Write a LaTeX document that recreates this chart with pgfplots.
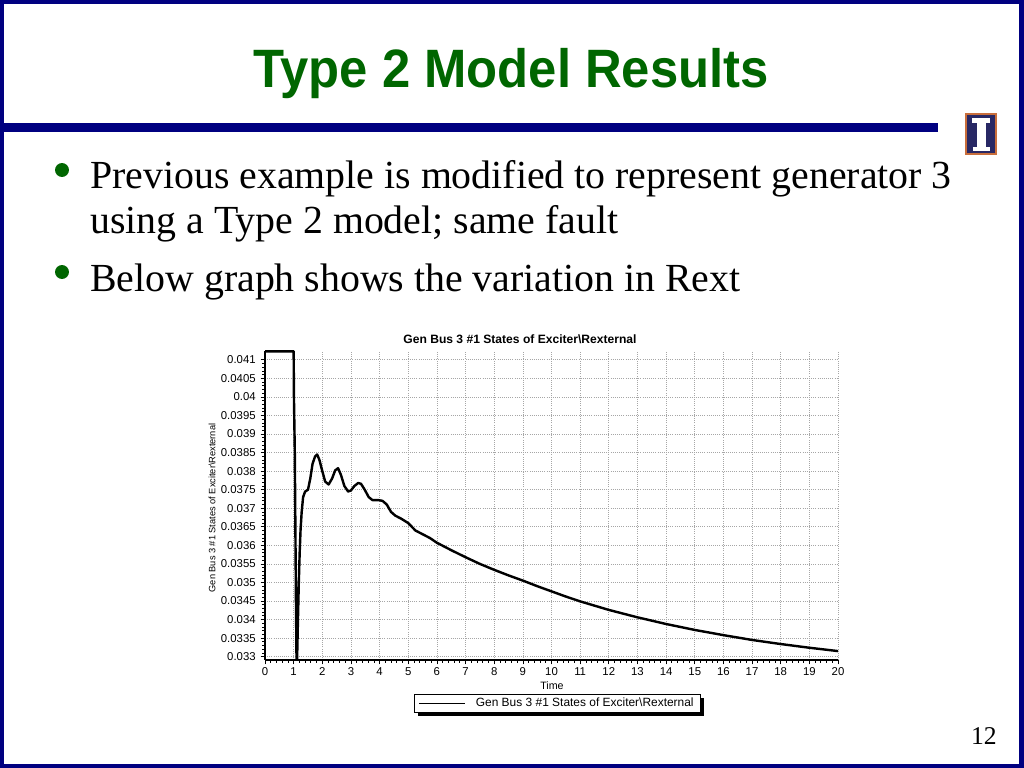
\documentclass[border=0pt]{standalone}
\usepackage{fontspec}
\setmainfont{Liberation Serif}
\newfontfamily\arial{Liberation Sans}
\usepackage{pgfplots}
\pgfplotsset{compat=1.18}
\definecolor{slidenavy}{RGB}{0,0,128}
\definecolor{titlegreen}{RGB}{0,102,0}
\definecolor{logonavy}{RGB}{40,40,100}
\definecolor{logoorange}{RGB}{200,110,60}
\begin{document}
\begin{tikzpicture}[x=0.703125pt,y=0.703125pt]
% background & frame
\fill[white] (0,0) rectangle (1024,768);
\fill[slidenavy] (0,0) rectangle (1024,4);
\fill[slidenavy] (0,764) rectangle (1024,768);
\fill[slidenavy] (0,0) rectangle (4,768);
\fill[slidenavy] (1019,0) rectangle (1024,768);
\fill[slidenavy] (0,636) rectangle (938,645);
% logo
\fill[logoorange] (965,613) rectangle (997,655);
\fill[logonavy] (967,615) rectangle (995,653);
\fill[white] (972,645) rectangle (990,650);
\fill[white] (977,621) rectangle (986,645);
\fill[white] (973,617) rectangle (990,621);
% title
\node[anchor=base, inner sep=0pt, text=titlegreen] at (511,680)
  {\scalebox{0.94}[1]{\arial\bfseries\fontsize{38}{40}\selectfont Type 2 Model Results}};
% bullets
\fill[titlegreen] (62,598) circle[radius=4.9pt];
\fill[titlegreen] (62,496) circle[radius=4.9pt];
\node[anchor=base west, inner sep=0pt] at (90,579) {\fontsize{28}{30}\selectfont Previous example is modified to represent generator 3};
\node[anchor=base west, inner sep=0pt] at (90,534) {\fontsize{28}{30}\selectfont using a Type 2 model; same fault};
\node[anchor=base west, inner sep=0pt] at (90,476) {\fontsize{28}{30}\selectfont Below graph shows the variation in Rext};
\node[anchor=base east, inner sep=0pt] at (997,23) {\fontsize{18}{20}\selectfont 12};
% chart texts
\node[anchor=center, inner sep=0pt] at (520,429) {\arial\bfseries\fontsize{8.5}{10}\selectfont Gen Bus 3 \#1 States of Exciter\textbackslash Rexternal};
\node[anchor=center, inner sep=0pt, rotate=90] at (212,260) {\arial\fontsize{6.5}{8}\selectfont Gen Bus 3 \#1 States of Exciter\textbackslash Rexternal};
\node[anchor=center, inner sep=0pt] at (552,82) {\arial\fontsize{7.5}{9}\selectfont Time};
% legend shadow
\fill[black] (418,52) rectangle (704,70);
\begin{axis}[
  at={(186.33pt,75.94pt)}, anchor=south west,
  scale only axis, width=402.9pt, height=217.3pt,
  xmin=0, xmax=20, ymin=0.03291, ymax=0.04124,
  clip=false,
  axis x line*=bottom, axis y line*=left,
  axis line style={-, line width=1.5pt, black},
  xtick={0,1,2,3,4,5,6,7,8,9,10,11,12,13,14,15,16,17,18,19,20},
  ytick={0.033,0.0335,0.034,0.0345,0.035,0.0355,0.036,0.0365,0.037,0.0375,0.038,0.0385,0.039,0.0395,0.04,0.0405,0.041},
  yticklabels={0.033,0.0335,0.034,0.0345,0.035,0.0355,0.036,0.0365,0.037,0.0375,0.038,0.0385,0.039,0.0395,0.04,0.0405,0.041},
  scaled y ticks=false,
  minor x tick num=4, minor y tick num=4,
  tick align=outside,
  major tick length=3pt, minor tick length=1.8pt,
  tick style={black, line width=0.5pt},
  grid=major,
  major grid style={gray!70, line width=0.5pt, dash pattern=on 0.5pt off 1pt},
  ticklabel style={font=\arial\fontsize{8}{9}\selectfont},
  /pgf/number format/assume math mode=true,
  xticklabel shift={-1pt},
  xticklabel style={anchor=north},
  legend style={at={(0.5105,-0.141)}, anchor=center, draw=black, line width=0.6pt,
    font=\arial\fontsize{8.4}{9}\selectfont, fill=white, inner xsep=3pt, inner ysep=0.6pt},
  legend image code/.code={\draw[black, line width=1.3pt] (0pt,0pt) -- (32pt,0pt);},
]
\addplot[black, line width=1.7pt, line join=round] coordinates {
(0,0.04123) (1.0,0.04123) (1.01,0.0400) (1.04,0.0385) (1.06,0.0365) (1.08,0.0345)
(1.10,0.03292) (1.12,0.03292) (1.15,0.0340) (1.18,0.0350) (1.21,0.0358) (1.24,0.0364)
(1.28,0.0369) (1.33,0.0373) (1.40,0.03745) (1.50,0.0375) (1.58,0.0378) (1.66,0.0382)
(1.75,0.0384) (1.82,0.03845) (1.90,0.0383) (2.00,0.0380) (2.10,0.03772) (2.22,0.03764)
(2.34,0.0378) (2.45,0.03802) (2.55,0.03808) (2.65,0.0379) (2.77,0.0376) (2.90,0.03745)
(3.00,0.03748) (3.12,0.0376) (3.25,0.03768) (3.35,0.03766) (3.48,0.0375) (3.62,0.0373)
(3.75,0.03722) (3.95,0.03722) (4.10,0.0372) (4.25,0.0371) (4.40,0.0369) (4.55,0.0368)
(4.75,0.03672) (5.0,0.0366) (5.25,0.0364) (5.5,0.0363) (5.75,0.0362) (6.0,0.03607)
(6.5,0.03587) (7.0,0.03568) (7.5,0.0355) (8.0,0.03534) (8.5,0.03519) (9.0,0.03505)
(9.5,0.0349) (10.0,0.03476) (10.5,0.03462) (11.0,0.03449) (12.0,0.03426) (13.0,0.03406)
(14.0,0.03388) (15.0,0.03372) (16.0,0.03358) (17.0,0.03345) (18.0,0.03334) (19.0,0.03324)
(20.0,0.03315)
};
\addlegendentry{\hspace{5pt}Gen Bus 3 \#1 States of Exciter\textbackslash Rexternal}
\end{axis}
\end{tikzpicture}
\end{document}
